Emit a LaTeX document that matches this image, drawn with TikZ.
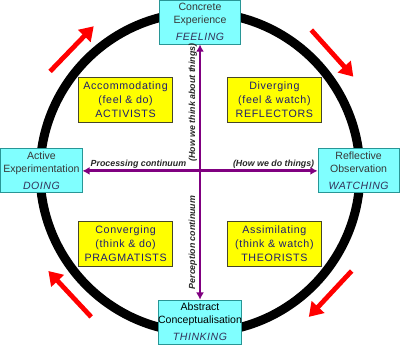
\documentclass[tikz,border=0pt]{standalone}
\usepackage{fontspec}
\setmainfont{Liberation Sans}
\newfontfamily\learnfont[LetterSpace=6]{Liberation Sans}
\newfontfamily\gerundfont[LetterSpace=5]{Liberation Sans}
\usepackage{xcolor}
\usepackage{tikz}
\usetikzlibrary{arrows.meta,positioning}
\definecolor{stage}{RGB}{40,150,150}
\definecolor{stagebg}{RGB}{128,255,255}
\definecolor{stagetext}{RGB}{55,55,55}
\definecolor{gerund}{RGB}{50,50,90}
\definecolor{learn}{RGB}{70,70,40}
\definecolor{learnbg}{RGB}{255,255,0}
\definecolor{learntext}{RGB}{30,30,110}
\definecolor{contin}{RGB}{128,0,128}
\definecolor{cyclecol}{RGB}{255,0,0}
\tikzset{
  >={Latex[length=1.8mm,width=2mm]},
  stagebox/.style={
    draw=stage, fill=stagebg, line width=0.6pt, align=center, inner sep=0pt,
    minimum width=20.3mm, minimum height=11mm, text=stagetext,
    font=\fontsize{7.5}{9.2}\selectfont},
  learnbox/.style={
    draw=learn, fill=learnbg, line width=0.6pt, align=center, inner sep=0pt,
    minimum width=23.5mm, minimum height=11.25mm, text=learntext,
    font=\learnfont\fontsize{7.6}{10}\selectfont},
  axlbl/.style={font=\fontsize{6.3}{7}\selectfont\bfseries\itshape,
    text=black!85, inner sep=1pt},
  ring/.style={draw=black, line width=6.4pt},
  % arrow "lanes"
  contflow/.style={<->, contin, line width=2pt},
  cycleflow/.style={-{Triangle[length=3.4mm,width=4.2mm]}, cyclecol,
    line width=3.4pt},
}
\begin{document}
\begin{tikzpicture}
\useasboundingbox (-5,-4.3125) rectangle (5,4.3125);

% ---------- learning cycle ----------
\draw[ring] (0,0) circle (4);

\foreach \a in {136,42,-43,-137}{
  \coordinate (tail) at (\a+10:4.52);
  \coordinate (tip)  at (\a-10:4.52);
  \draw[cycleflow] (tail) -- (tip);}

% ---------- stages ----------
\node[stagebox] (CE) at (0,3.76)
  {Concrete\\Experience\\[3pt]\textcolor{gerund}{\gerundfont\itshape FEELING}};
\node[stagebox] (RO) at (3.965,0.04)
  {Reflective\\Observation\\[3pt]\textcolor{gerund}{\gerundfont\itshape WATCHING}};
\node[stagebox, text=black] (AC) at (0,-3.74)
  {Abstract\\Conceptualisation\\[3pt]\textcolor{gerund}{\gerundfont\itshape THINKING}};
\node[stagebox] (AE) at (-3.965,0.04)
  {Active\\Experimentation\\[3pt]\textcolor{gerund}{\gerundfont\itshape DOING}};

% ---------- learning styles ----------
\node[learnbox] (acc) at (-1.86,1.825) {Accommodating\\(feel \& do)\\ACTIVISTS};
\node[learnbox] (div) at (1.86,1.825)  {Diverging\\(feel \& watch)\\REFLECTORS};
\node[learnbox] (con) at (-1.86,-1.79) {Converging\\(think \& do)\\PRAGMATISTS};
\node[learnbox] (ass) at (1.86,-1.79)  {Assimilating\\(think \& watch)\\THEORISTS};

% ---------- continua ----------
\draw[contflow] (AE.east) -- (RO.west);
\draw[contflow] (CE.south) -- (AC.north);

\node[axlbl] (proc) at (-1.54,0.2) {Processing continuum};
\node[axlbl] (doing) at (1.84,0.2) {(How we do things)};
\node[axlbl, rotate=90] (think) at (-0.18,1.75) {(How we think about things)};
\node[axlbl, rotate=90] (perc) at (-0.18,-1.75) {Perception continuum};

\end{tikzpicture}
\end{document}
